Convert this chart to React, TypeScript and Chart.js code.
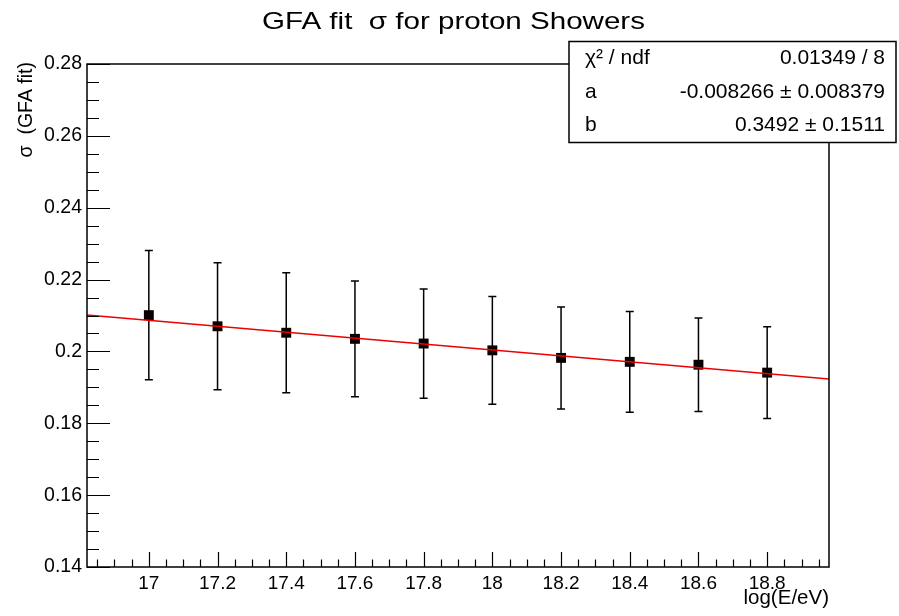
import { useEffect, useRef } from "react";
import { Chart, registerables } from "chart.js";

Chart.register(...registerables);

// ---- Data ----
const energies = [17, 17.2, 17.4, 17.6, 17.8, 18, 18.2, 18.4, 18.6, 18.8];
const sigmaValues = [0.2101, 0.207, 0.2052, 0.2035, 0.2022, 0.2003, 0.1982, 0.1971, 0.1963, 0.1941];
const sigmaErrors = [0.018, 0.0177, 0.0167, 0.0161, 0.0152, 0.015, 0.0142, 0.014, 0.013, 0.0128];

// fit: sigma = a * x + b
const fitA = -0.008266;
const fitB = 0.3492;

const xMin = 16.82;
const xMax = 18.98;
const yMin = 0.14;
const yMax = 0.28;

const xTickValues = [17, 17.2, 17.4, 17.6, 17.8, 18, 18.2, 18.4, 18.6, 18.8];
const xTickLabels = ["17", "17.2", "17.4", "17.6", "17.8", "18", "18.2", "18.4", "18.6", "18.8"];
const yTickValues = [0.14, 0.16, 0.18, 0.2, 0.22, 0.24, 0.26, 0.28];
const yTickLabels = ["0.14", "0.16", "0.18", "0.2", "0.22", "0.24", "0.26", "0.28"];
const xMinorStep = 0.05;
const yMinorStep = 0.005;

const titleText = "GFA fit  \u03c3 for proton Showers";
const xTitle = "log(E/eV)";
const yTitle = "\u03c3  (GFA fit)";
const statsRows = [
  ["\u03c7\u00b2 / ndf", "0.01349 / 8"],
  ["a", "-0.008266 \u00b1 0.008379"],
  ["b", "0.3492 \u00b1 0.1511"],
];

const FONT = '"Liberation Sans", Arial, Helvetica, sans-serif';

function drawFitted(ctx: any, text: string, x: number, y: number, width: number, align: "center" | "right") {
  const w = ctx.measureText(text).width;
  const sx = width / w;
  ctx.save();
  ctx.translate(x, y);
  ctx.scale(sx, 1);
  ctx.textAlign = align;
  ctx.fillText(text, 0, 0);
  ctx.restore();
}

const rootPlugin = {
  id: "rootDecor",
  beforeDatasetsDraw(chart: any) {
    const { ctx } = chart;
    const xs = chart.scales.x;
    const ys = chart.scales.y;
    ctx.save();
    ctx.strokeStyle = "#000";
    ctx.lineWidth = 1.5;
    energies.forEach((e, i) => {
      const px = xs.getPixelForValue(e);
      const top = ys.getPixelForValue(sigmaValues[i] + sigmaErrors[i]);
      const bot = ys.getPixelForValue(sigmaValues[i] - sigmaErrors[i]);
      ctx.beginPath();
      ctx.moveTo(px, top);
      ctx.lineTo(px, bot);
      ctx.moveTo(px - 4, top);
      ctx.lineTo(px + 4, top);
      ctx.moveTo(px - 4, bot);
      ctx.lineTo(px + 4, bot);
      ctx.stroke();
    });
    ctx.restore();
  },
  afterDraw(chart: any) {
    const { ctx, chartArea } = chart;
    const xs = chart.scales.x;
    const ys = chart.scales.y;
    const { left, right, top, bottom } = chartArea;
    ctx.save();
    // frame
    ctx.strokeStyle = "#000";
    ctx.lineWidth = 1.5;
    ctx.strokeRect(left, top, right - left, bottom - top);
    // x ticks
    ctx.beginPath();
    ctx.lineWidth = 1.2;
    const nx = Math.round((xMax - xMin) / xMinorStep) + 2;
    const xStart = Math.ceil(xMin / xMinorStep) * xMinorStep;
    for (let k = 0; k < nx; k++) {
      const v = xStart + k * xMinorStep;
      if (v > xMax + 1e-9) break;
      const isMajor = xTickValues.some((t) => Math.abs(t - v) < 1e-6);
      const px = Math.round(xs.getPixelForValue(v)) + 0.5;
      ctx.moveTo(px, bottom);
      ctx.lineTo(px, bottom - (isMajor ? 15 : 7.5));
    }
    // y ticks
    const ny = Math.round((yMax - yMin) / yMinorStep) + 1;
    for (let k = 0; k < ny; k++) {
      const v = yMin + k * yMinorStep;
      const isMajor = yTickValues.some((t) => Math.abs(t - v) < 1e-6);
      const py = Math.round(ys.getPixelForValue(v)) + 0.5;
      ctx.moveTo(left, py);
      ctx.lineTo(left + (isMajor ? 23 : 12), py);
    }
    ctx.stroke();

    // title
    ctx.fillStyle = "#000";
    ctx.font = `24px ${FONT}`;
    ctx.textBaseline = "alphabetic";
    drawFitted(ctx, titleText, 453.5, 28.5, 383, "center");

    // x title
    ctx.font = `20px ${FONT}`;
    drawFitted(ctx, xTitle, right, 603.5, 85.5, "right");

    // y title
    ctx.save();
    ctx.translate(32, top - 2);
    ctx.rotate(-Math.PI / 2);
    ctx.font = `19.5px ${FONT}`;
    ctx.textAlign = "right";
    ctx.fillText(yTitle, 0, 0);
    ctx.restore();

    // stats box
    const bx = 569, by = 41.5, bw = 327, bh = 101;
    ctx.fillStyle = "#fff";
    ctx.fillRect(bx, by, bw, bh);
    ctx.lineWidth = 1.5;
    ctx.strokeStyle = "#000";
    ctx.strokeRect(bx, by, bw, bh);
    ctx.fillStyle = "#000";
    ctx.font = `21px ${FONT}`;
    ctx.textBaseline = "middle";
    statsRows.forEach((row, i) => {
      const cy = by + bh * (i + 0.5) / 3;
      ctx.textAlign = "left";
      ctx.fillText(row[0], 585, cy);
      ctx.textAlign = "right";
      ctx.fillText(row[1], 885, cy);
    });
    ctx.restore();
  },
};

export default function App() {
  const canvasRef = useRef<HTMLCanvasElement | null>(null);

  useEffect(() => {
    document.body.style.margin = "0";
    const canvas = canvasRef.current;
    if (!canvas) return;
    const chart = new Chart(canvas, {
      type: "scatter",
      data: {
        datasets: [
          {
            type: "line",
            data: [
              { x: xMin, y: fitA * xMin + fitB },
              { x: xMax, y: fitA * xMax + fitB },
            ],
            borderColor: "#ee0000",
            borderWidth: 1.5,
            pointRadius: 0,
            fill: false,
          } as any,
          {
            data: energies.map((e, i) => ({ x: e, y: sigmaValues[i] })),
            pointStyle: "rect",
            pointRadius: 7,
            pointBackgroundColor: "#0a0000",
            pointBorderWidth: 0,
            showLine: false,
          } as any,
        ],
      },
      options: {
        animation: false,
        responsive: false,
        maintainAspectRatio: false,
        layout: { padding: { left: 0, right: 70, top: 64, bottom: 0 } },
        plugins: {
          legend: { display: false },
          tooltip: { enabled: false },
          title: { display: false },
        },
        scales: {
          x: {
            type: "linear",
            min: xMin,
            max: xMax,
            grid: { display: false, drawTicks: false },
            border: { display: false },
            ticks: {
              autoSkip: false,
              maxRotation: 0,
              padding: 5,
              color: "#000",
              font: { family: FONT, size: 19 },
              callback: (_v: any, i: number) => xTickLabels[i],
            },
            afterBuildTicks: (s: any) => {
              s.ticks = xTickValues.map((v) => ({ value: v }));
            },
            afterFit: (s: any) => {
              s.height = 49;
            },
          },
          y: {
            type: "linear",
            min: yMin,
            max: yMax,
            grid: { display: false, drawTicks: false },
            border: { display: false },
            ticks: {
              autoSkip: false,
              padding: 5,
              color: "#000",
              font: { family: FONT, size: 19.5 },
              callback: (_v: any, i: number) => yTickLabels[i],
            },
            afterBuildTicks: (s: any) => {
              s.ticks = yTickValues.map((v) => ({ value: v }));
            },
            afterFit: (s: any) => {
              s.width = 87;
            },
          },
        },
      } as any,
      plugins: [rootPlugin],
    });
    return () => chart.destroy();
  }, []);

  return (
    <div style={{ width: 899, height: 616, background: "#fff" }}>
      <canvas ref={canvasRef} width={899} height={616} style={{ display: "block" }} />
    </div>
  );
}
